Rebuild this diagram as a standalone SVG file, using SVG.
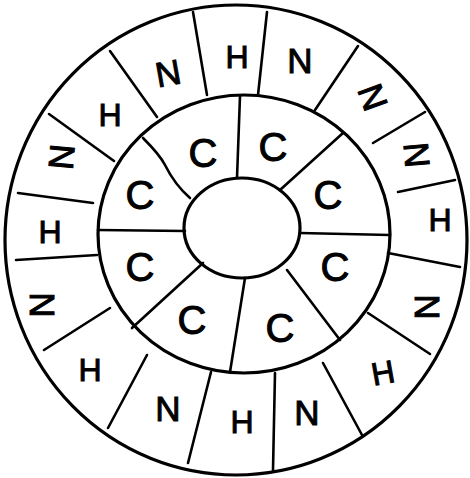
<svg xmlns="http://www.w3.org/2000/svg" width="470" height="478" viewBox="0 0 470 478">
<style>
.ring{fill:none;stroke:#000;stroke-width:3.2}
.ln{fill:none;stroke:#000;stroke-width:2.6;stroke-linecap:round}
.lab{font-family:"Liberation Sans",Arial,sans-serif;fill:#000;stroke:#000;stroke-width:1;text-anchor:middle;dominant-baseline:central}
.h{font-size:32px}
.n{font-size:35px}
.c{font-size:40px}
</style>
<rect width="470" height="478" fill="#fff"/>
<g id="rings">
<ellipse class="ring" cx="236" cy="240" rx="231" ry="235" stroke-width="3.4"/>
<ellipse class="ring" cx="244" cy="234" rx="146" ry="139"/>
<ellipse class="ring" cx="242" cy="228" rx="58" ry="50" stroke-width="3.6"/>
</g>
<g id="connectors">
<line class="ln" x1="193" y1="12" x2="207" y2="95"/>
<line class="ln" x1="267" y1="12" x2="258" y2="95"/>
<line class="ln" x1="358" y1="46" x2="315" y2="110"/>
<line class="ln" x1="425" y1="112" x2="373" y2="143"/>
<line class="ln" x1="455" y1="180" x2="398" y2="192"/>
<line class="ln" x1="388" y1="253" x2="460" y2="267"/>
<line class="ln" x1="368" y1="313" x2="430" y2="354"/>
<line class="ln" x1="323" y1="363" x2="362" y2="435"/>
<line class="ln" x1="275" y1="373" x2="273" y2="470"/>
<line class="ln" x1="211" y1="372" x2="188" y2="463"/>
<line class="ln" x1="147" y1="355" x2="108" y2="428"/>
<line class="ln" x1="110" y1="308" x2="44" y2="350"/>
<line class="ln" x1="97" y1="255" x2="16" y2="260"/>
<line class="ln" x1="93" y1="203" x2="18" y2="193"/>
<line class="ln" x1="114" y1="161" x2="49" y2="114"/>
<line class="ln" x1="157" y1="117" x2="110" y2="51"/>
<line class="ln" x1="240" y1="96" x2="237" y2="178"/>
<line class="ln" x1="343" y1="133" x2="280" y2="190"/>
<line class="ln" x1="300" y1="233" x2="390" y2="235"/>
<line class="ln" x1="287" y1="270" x2="340" y2="340"/>
<line class="ln" x1="245" y1="278" x2="230" y2="372"/>
<line class="ln" x1="203" y1="263" x2="132" y2="328"/>
<line class="ln" x1="98" y1="230" x2="185" y2="231"/>
<path class="ln" d="M143 138 Q160 155 165 165 Q175 185 190 198"/>
</g>
<g id="outer-labels">
<g id="o1"><text class="lab h" x="237" y="57">H</text></g>
<g id="o2"><text class="lab n" x="300" y="60">N</text></g>
<g id="o3"><text class="lab n" x="373" y="97" transform="rotate(70 373 97)">N</text></g>
<g id="o4"><text class="lab n" x="417" y="155" transform="rotate(85 417 155)">N</text></g>
<g id="o5"><text class="lab h" x="440" y="220">H</text></g>
<g id="o6"><text class="lab n" x="427" y="307" transform="rotate(90 427 307)">N</text></g>
<g id="o7"><text class="lab h" x="383" y="373" transform="rotate(-10 383 373)">H</text></g>
<g id="o8"><text class="lab n" x="307" y="412">N</text></g>
<g id="o9"><text class="lab h" x="242" y="422" stroke-width="2">H</text></g>
<g id="o10"><text class="lab n" x="168" y="408">N</text></g>
<g id="o11"><text class="lab h" x="90" y="370">H</text></g>
<g id="o12"><text class="lab n" x="42" y="305" transform="rotate(90 42 305)">N</text></g>
<g id="o13"><text class="lab h" x="50" y="232">H</text></g>
<g id="o14"><text class="lab n" x="62" y="157" transform="rotate(95 62 157)">N</text></g>
<g id="o15"><text class="lab h" x="110" y="115">H</text></g>
<g id="o16"><text class="lab n" x="168" y="73" transform="rotate(-10 168 73)">N</text></g>
</g>
<g id="inner-labels">
<g id="c1"><text class="lab c" x="203" y="153">C</text></g>
<g id="c2"><text class="lab c" x="273" y="147">C</text></g>
<g id="c3"><text class="lab c" x="328" y="195">C</text></g>
<g id="c4"><text class="lab c" x="335" y="267">C</text></g>
<g id="c5"><text class="lab c" x="280" y="328">C</text></g>
<g id="c6"><text class="lab c" x="192" y="320">C</text></g>
<g id="c7"><text class="lab c" x="140" y="267">C</text></g>
<g id="c8"><text class="lab c" x="140" y="195">C</text></g>
</g>
</svg>
